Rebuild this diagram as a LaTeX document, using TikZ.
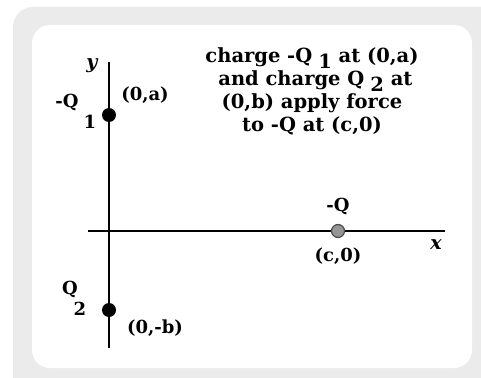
\documentclass[tikz,border=0pt]{standalone}
\usepackage{fontspec}
\setmainfont{DejaVu Serif}
\definecolor{panelgray}{RGB}{235,235,235}
\definecolor{dotgray}{RGB}{150,150,150}
\usetikzlibrary{positioning}

\begin{document}
\begin{tikzpicture}[x=1pt, y=-1pt,
    axis/.style={line width=1.3pt, black},
    charge/.style={circle, fill=black, inner sep=0pt, minimum size=14pt},
    probe/.style={circle, draw=black!70, line width=1.2pt, fill=dotgray, inner sep=0pt, minimum size=13pt},
    lbl/.style={font=\fontsize{18}{20}\selectfont\bfseries, inner sep=1pt},
    axlbl/.style={font=\fontsize{19}{20}\selectfont\bfseries\itshape, inner sep=1pt}
  ]
    \useasboundingbox (0,0) rectangle (481,377);
    \clip (0,0) rectangle (481,377);
    % Panels
    \fill[panelgray, rounded corners=20pt] (13,7) rectangle (510,400);
    \fill[white, rounded corners=18pt] (32,25) rectangle (472,368);
    % Axes
    \coordinate (ytop) at (109,62);
    \coordinate (ybot) at (109,348);
    \coordinate (xleft) at (88,231);
    \coordinate (xright) at (445,231);
    \draw[axis] (ybot) -- (ytop);
    \draw[axis] (xleft) -- (xright);
    \node[axlbl] (ylab) at (92,66) {y};
    \node[axlbl] (xlab) at (436,245) {x};
    % Charges
    \node[charge] (q1) at (109,115) {};
    \node[charge] (q2) at (109,310) {};
    \node[probe] (q3) at (338,231) {};
    % Labels
    \node[lbl] (q1name) at (67,102) {-Q};
    \node[lbl] (q1sub) at (90,122) {1};
    \node[lbl] (q1pos) at (145,95) {(0,a)};
    \node[lbl] (q2name) at (70,289) {Q};
    \node[lbl] (q2sub) at (80,309) {2};
    \node[lbl] (q2pos) at (155,328) {(0,-b)};
    \node[lbl] (q3name) at (338,206) {-Q};
    \node[lbl] (q3pos) at (338,256) {(c,0)};
    % Caption
    \node[lbl, align=center, font=\fontsize{19.5}{23}\selectfont\bfseries] (note) at (312,91)
      {charge -Q\hspace{6pt}\raisebox{-6pt}{1} at (0,a)\hspace{4pt}\\
       \ and charge Q\hspace{6pt}\raisebox{-6pt}{2} at\\
       (0,b) apply force\\
       to -Q at (c,0)};
  \end{tikzpicture}
\end{document}
